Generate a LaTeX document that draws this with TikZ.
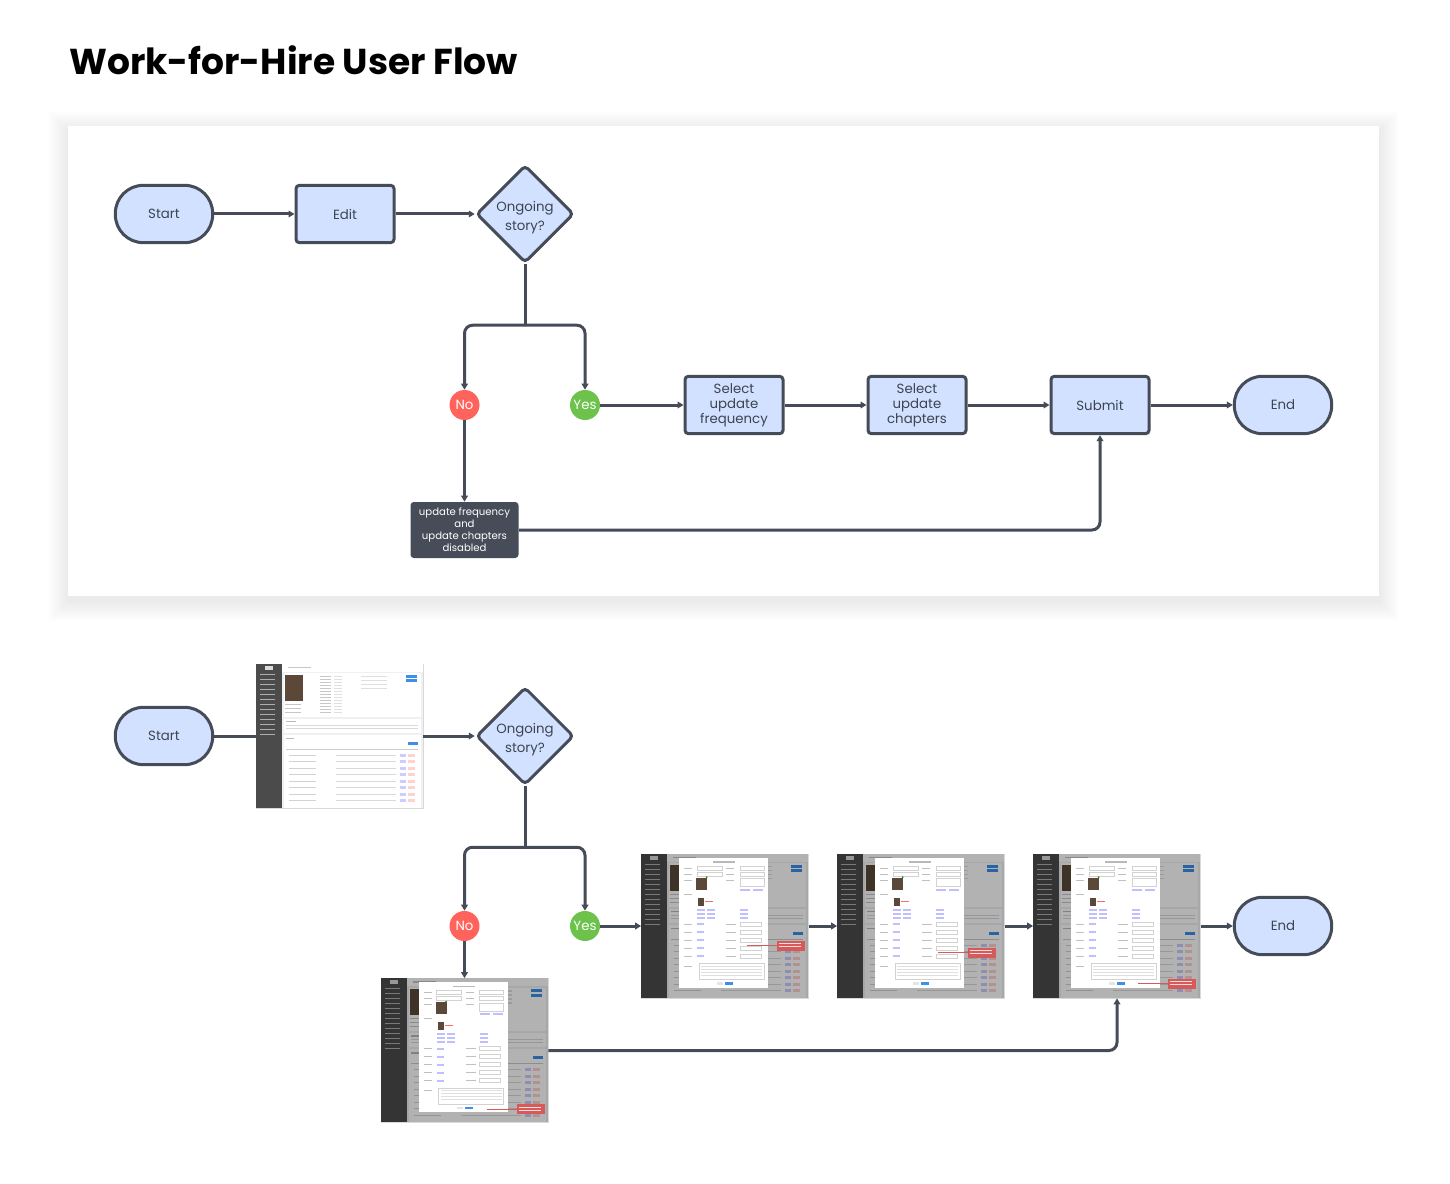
\documentclass[tikz,border=0pt]{standalone}
\usepackage{fontspec}
\setmainfont{Poppins}
\usetikzlibrary{shapes.geometric,arrows.meta}

\definecolor{linec}{HTML}{454C58}
\definecolor{textc}{HTML}{3D4450}
\definecolor{boxfill}{HTML}{D1E1FF}
\definecolor{nored}{HTML}{FF635B}
\definecolor{yesgreen}{HTML}{6CC24A}
\definecolor{notedark}{HTML}{464D58}
\definecolor{sidebar}{HTML}{4B4B4B}
\definecolor{shotbg}{HTML}{EEF0F3}
\definecolor{poster}{HTML}{5B4838}
\definecolor{btnblue}{HTML}{3D8FE8}
\definecolor{callout}{HTML}{D65A5A}

\newcommand\nodefont{\fontsize{10}{11.25}\selectfont}

% list page of the admin screen, local pixel units
\newcommand\drawlist{%
  \fill[shotbg] (0,0) rectangle (167,144);
  \fill[sidebar] (0,0) rectangle (26,144);
  \fill[white!80!sidebar] (9,2) rectangle (17,6);
  \foreach \r in {10,15,...,70} \fill[sidebar!45!white] (4,\r) rectangle (19,\r+1.2);
  \fill[white] (26,0) rectangle (167,8);
  \fill[gray!45] (32,3) rectangle (55,4.5);
  \fill[white] (28,9.5) rectangle (165,53);
  \fill[poster] (29,11) rectangle (47,37);
  \foreach \r in {40,44,48} \fill[gray!45] (29,\r) rectangle (45,\r+1);
  \foreach \r in {12,15,...,48} {\fill[gray!45] (64,\r) rectangle (75,\r+1); \fill[gray!25] (78,\r) rectangle (86,\r+1);}
  \foreach \r in {12,16,20,24} \fill[gray!25] (105,\r) rectangle (131,\r+1.5);
  \fill[btnblue] (150,11) rectangle (161,14);
  \fill[btnblue] (150,15.5) rectangle (161,18.5);
  \fill[white] (28,55) rectangle (165,69);
  \fill[gray!55] (30,57) rectangle (40,58.5);
  \foreach \r in {61,64} \fill[gray!30] (30,\r) rectangle (162,\r+1);
  \fill[white] (28,71) rectangle (165,144);
  \fill[gray!55] (30,74) rectangle (38,75.5);
  \fill[btnblue] (152,78) rectangle (162,81);
  \fill[gray!40] (30,85) rectangle (162,86);
  \foreach \r in {91,97.5,...,142} {
    \fill[gray!35] (33,\r) rectangle (60,\r+1);
    \fill[gray!30] (80,\r) rectangle (140,\r+1);
    \fill[blue!20] (144,\r-1) rectangle (150,\r+2);
    \fill[red!18] (152,\r-1) rectangle (159,\r+2);}
}

% same page dimmed under the edit dialog, callout at #1,#2
\newcommand\drawmodal[2]{%
  \drawlist
  \fill[black,opacity=.3] (0,0) rectangle (167,144);
  \fill[white] (38,4) rectangle (127,134);
  \fill[gray!55] (72,7.5) rectangle (94,9);
  \foreach \r in {14,20} {
    \fill[gray!50] (43,\r) rectangle (51,\r+1);
    \draw[gray!35,line width=.3pt] (56,\r-1.5) rectangle (81,\r+2.5);
    \fill[gray!50] (85,\r) rectangle (93,\r+1);
    \draw[gray!35,line width=.3pt] (99,\r-1.5) rectangle (123,\r+2.5);}
  \fill[gray!50] (43,26) rectangle (51,27);
  \fill[poster] (55,24) rectangle (66,36);
  \fill[green!60!black] (65.5,23.5) circle (1);
  \fill[gray!50] (85,26) rectangle (93,27);
  \draw[gray!35,line width=.3pt] (99,25) rectangle (123,33);
  \fill[blue!25] (99,35) rectangle (109,37);
  \fill[blue!25] (112,35) rectangle (122,37);
  \fill[gray!50] (43,40) rectangle (51,41);
  \fill[poster] (57,44) rectangle (63,52);
  \fill[red!60] (64,47) rectangle (72,48);
  \foreach \r in {55,59,63} {
    \fill[blue!25] (56,\r) rectangle (64,\r+2);
    \fill[blue!25] (66,\r) rectangle (74,\r+2);
    \fill[blue!25] (99,\r) rectangle (107,\r+2);}
  \foreach \r in {70,78,86,94,102} {
    \fill[gray!50] (43,\r) rectangle (51,\r+1);
    \fill[blue!25] (56,\r-.5) rectangle (63,\r+1.5);
    \fill[gray!50] (85,\r) rectangle (95,\r+1);
    \draw[gray!35,line width=.3pt] (99,\r-1.5) rectangle (120,\r+2.5);}
  \fill[gray!50] (43,112) rectangle (51,113);
  \draw[gray!35,line width=.3pt] (58,110) rectangle (123,126);
  \foreach \r in {112,115,...,123} \fill[gray!25] (60,\r) rectangle (121,\r+.8);
  \fill[gray!20] (76,128.5) rectangle (82,131);
  \fill[btnblue] (84,128.5) rectangle (92,131);
  \draw[callout,line width=.4pt] (#1,#2+5) -- (#1-30,#2+5);
  \fill[callout] (#1,#2) rectangle (#1+28,#2+10);
  \foreach \r in {2.5,5.5} \fill[white!80!callout] (#1+2,#2+\r) rectangle (#1+24,#2+\r+1);
}

\tikzset{
  term/.style={draw=linec, line width=2.25pt, fill=boxfill, rounded corners=21pt,
    minimum width=73pt, minimum height=43pt, text=textc, font=\nodefont},
  proc/.style={draw=linec, line width=2.25pt, fill=boxfill, rounded corners=2.5pt,
    minimum width=73.5pt, minimum height=43pt, text=textc, align=center, font=\nodefont},
  decide/.style={diamond, aspect=1, draw=linec, line width=2.25pt, fill=boxfill,
    rounded corners=3pt, minimum size=70pt, inner sep=0pt, text=textc, align=center,
    font=\fontsize{10}{14.5}\selectfont},
  nobub/.style={circle, fill=nored, minimum size=22.5pt, inner sep=0pt, text=white, font=\nodefont},
  yesbub/.style={nobub, fill=yesgreen},
  note/.style={fill=notedark, rounded corners=2.5pt, minimum width=81pt, minimum height=42pt,
    inner sep=1pt, text=white, align=center, font=\fontsize{7.6}{9}\selectfont},
  shot/.style={rectangle, inner sep=0pt, minimum width=125.25pt, minimum height=108pt,
    draw=gray!30, line width=.5pt},
  pics/listshot/.style={code={\drawlist}},
  pics/modalshot/.style 2 args={code={\drawmodal{#1}{#2}}},
  link/.style={draw=linec, line width=2.25pt},
  flow/.style={link, -{Triangle[length=4.5pt,width=5pt]}, rounded corners=6pt},
}

\begin{document}
\begin{tikzpicture}[x=0.75pt, y=-0.75pt]
  \useasboundingbox (0,0) rectangle (1450,1184);

  \node[anchor=base west, inner sep=0pt, font=\fontsize{27}{32}\bfseries] (title) at (69,75) {Work-for-Hire User Flow};

  % panel with soft shadow
  \foreach \i in {1,...,20}
    \fill[black, opacity=0.0022] (68-\i,126-\i+5) rectangle (1379+\i,596+\i+5);
  \fill[white] (68,126) rectangle (1379,596);

  % wireframe flow
  \node[term] (start1) at (164,214) {Start};
  \node[proc] (edit1) at (345,214) {Edit};
  \node[decide] (dia1) at (525,214) {\rule{0pt}{13pt}Ongoing\\story?};
  \node[nobub] (no1) at (464.5,405) {No};
  \node[yesbub] (yes1) at (585,405) {Yes};
  \node[proc] (freq1) at (734,405) {Select\\update\\frequency};
  \node[proc] (chap1) at (917,405) {Select\\update\\chapters};
  \node[proc] (submit1) at (1100,405) {Submit};
  \node[term] (end1) at (1283,405) {End};
  \node[note] (off1) at (464.5,530) {update frequency\\and\\update chapters\\disabled};

  % screen flow
  \node[term] (start2) at (164,736) {Start};
  \node[shot] (s1) at (339.5,736) {};
  \node[decide] (dia2) at (525,736) {\rule{0pt}{13pt}Ongoing\\story?};
  \node[nobub] (no2) at (464.5,926) {No};
  \node[yesbub] (yes2) at (585,926) {Yes};
  \node[shot] (s2) at (725,926) {};
  \node[shot] (s3) at (921,926) {};
  \node[shot] (s4) at (1117,926) {};
  \node[term] (end2) at (1283,926) {End};
  \node[shot] (s5) at (464.5,1050.5) {};

  % screen contents
  \pic at (s1.north west) {listshot};
  \pic at (s2.north west) {modalshot={136}{87}};
  \pic at (s3.north west) {modalshot={131}{94}};
  \pic at (s4.north west) {modalshot={135}{125}};
  \pic at (s5.north west) {modalshot={136}{126}};

  \begin{scope}
    \draw[flow] (start1) -- (edit1);
    \draw[flow] (edit1) -- (dia1);
    \draw[link] (dia1.south) -- ++(0,61) coordinate (fork1);
    \draw[flow] (fork1) -| (no1);
    \draw[flow] (fork1) -| (yes1);
    \draw[flow] (yes1) -- (freq1);
    \draw[flow] (freq1) -- (chap1);
    \draw[flow] (chap1) -- (submit1);
    \draw[flow] (submit1) -- (end1);
    \draw[flow] (no1) -- (off1);
    \draw[flow] (off1) -| (submit1);

    \draw[link] (start2) -- (s1);
    \draw[flow] (s1) -- (dia2);
    \draw[link] (dia2.south) -- ++(0,61) coordinate (fork2);
    \draw[flow] (fork2) -| (no2);
    \draw[flow] (fork2) -| (yes2);
    \draw[flow] (yes2) -- (s2);
    \draw[flow] (s2) -- (s3);
    \draw[flow] (s3) -- (s4);
    \draw[flow] (s4) -- (end2);
    \draw[flow] (no2) -- (s5);
    \draw[flow] (s5) -| (s4);
  \end{scope}
\end{tikzpicture}
\end{document}
